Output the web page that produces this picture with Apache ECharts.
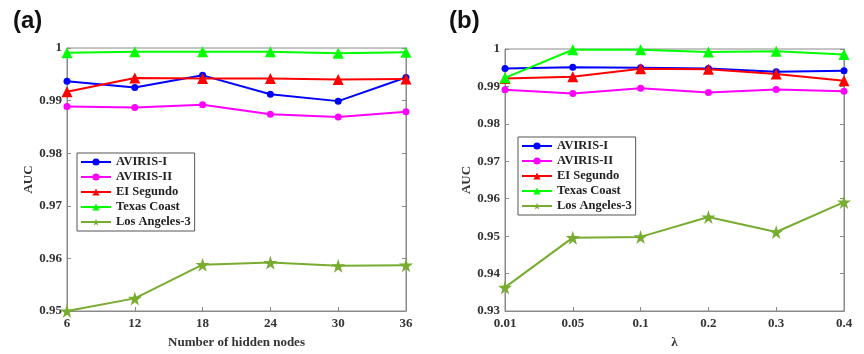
<!DOCTYPE html>
<html>
<head>
<meta charset="utf-8">
<script src="https://cdn.jsdelivr.net/npm/echarts@6/dist/echarts.min.js"></script>
<style>
  html, body { margin: 0; padding: 0; background: #fff; }
  #chart { width: 864px; height: 354px; }
</style>
</head>
<body>
<div id="chart"></div>
<script>
// panel (a): AUC vs number of hidden nodes
const nodesA = ['6', '12', '18', '24', '30', '36'];
const avirisIA = [0.9937, 0.9925, 0.9948, 0.9912, 0.9899, 0.9944];
const avirisIIA = [0.9889, 0.9887, 0.9892, 0.9874, 0.9869, 0.9879];
const segundoA = [0.9917, 0.9943, 0.9942, 0.9942, 0.9940, 0.9941];
const texasA = [0.9991, 0.9993, 0.9993, 0.9993, 0.9990, 0.9992];
const losAngelesA = [0.9500, 0.9524, 0.9588, 0.9592, 0.9586, 0.9587];

// panel (b): AUC vs lambda
const lambdaB = ['0.01', '0.05', '0.1', '0.2', '0.3', '0.4'];
const avirisIB = [0.9948, 0.9951, 0.9950, 0.9948, 0.9939, 0.9942];
const avirisIIB = [0.9891, 0.9881, 0.9895, 0.9884, 0.9892, 0.9887];
const segundoB = [0.9921, 0.9926, 0.9947, 0.9946, 0.9933, 0.9915];
const texasB = [0.9923, 0.9998, 0.9998, 0.9992, 0.9994, 0.9985];
const losAngelesB = [0.9363, 0.9496, 0.9498, 0.9551, 0.9511, 0.9591];

const names = ['AVIRIS-I', 'AVIRIS-II', 'EI Segundo', 'Texas Coast', 'Los Angeles-3'];

const SERIF = '"Liberation Serif", "Times New Roman", serif';
const AXIS_GREY = '#8a8a8a';

const STYLE = {
  'AVIRIS-I': { color: '#0000ff', symbol: 'circle', size: 7 },
  'AVIRIS-II': { color: '#ff00ff', symbol: 'circle', size: 7 },
  'EI Segundo': { color: '#ff0000', symbol: 'triangle', size: 11 },
  'Texas Coast': { color: '#00ff00', symbol: 'triangle', size: 11 },
  'Los Angeles-3': { color: '#77ac30', symbol: 'path://M50,0 L61,35 L98,35 L68,57 L79,91 L50,70 L21,91 L32,57 L2,35 L39,35 Z', size: 14 },
};

function makeSeries(name, data, idx) {
  const s = STYLE[name];
  return {
    name,
    type: 'line',
    xAxisIndex: idx,
    yAxisIndex: idx * 2,
    data,
    symbol: s.symbol,
    symbolSize: s.size,
    showAllSymbol: true,
    color: s.color,
    lineStyle: { width: 2, color: s.color },
    itemStyle: { color: s.color },
    animation: false,
    z: 3,
  };
}

function yAxes(gridIndex, min, name) {
  const fmt = v => String(+v.toFixed(2));
  return [
    {
      type: 'value', gridIndex, min, max: 1, interval: 0.01,
      name, nameLocation: 'middle', nameGap: 30,
      nameTextStyle: { fontFamily: SERIF, fontWeight: 'bold', fontSize: 13, color: '#333' },
      axisLine: { show: true, lineStyle: { color: AXIS_GREY } },
      axisTick: { show: true, inside: true, length: 4, lineStyle: { color: AXIS_GREY } },
      axisLabel: { formatter: fmt, fontFamily: SERIF, fontWeight: 'bold', fontSize: 13, color: '#333', margin: 5 },
      splitLine: { show: false },
    },
    {
      type: 'value', gridIndex, min, max: 1, interval: 0.01, position: 'right',
      axisLine: { show: true, lineStyle: { color: AXIS_GREY } },
      axisTick: { show: true, inside: true, length: 4, lineStyle: { color: AXIS_GREY } },
      axisLabel: { show: false },
      splitLine: { show: false },
    },
  ];
}

function xAxis(gridIndex, data, name) {
  return {
    type: 'category', gridIndex, data, boundaryGap: false,
    name, nameLocation: 'middle', nameGap: 25,
    nameTextStyle: { fontFamily: SERIF, fontWeight: 'bold', fontSize: 13, color: '#333' },
    axisLine: { show: true, lineStyle: { color: AXIS_GREY } },
    axisTick: { show: true, inside: true, length: 4, alignWithLabel: true, lineStyle: { color: AXIS_GREY } },
    axisLabel: { fontFamily: SERIF, fontWeight: 'bold', fontSize: 13, color: '#333', margin: 6 },
    splitLine: { show: false },
  };
}

function legend(left, top) {
  return {
    data: names,
    orient: 'vertical',
    left, top,
    itemWidth: 30, itemHeight: 9, itemGap: 1,
    padding: [2, 4, 2, 3],
    borderColor: '#555', borderWidth: 1,
    backgroundColor: '#fff',
    textStyle: { fontFamily: SERIF, fontWeight: 'bold', fontSize: 12.5, color: '#222', lineHeight: 14 },
    selectedMode: false,
  };
}

const chart = echarts.init(document.getElementById('chart'), null, { renderer: 'canvas' });

chart.setOption({
  backgroundColor: '#fff',
  animation: false,
  title: [
    { text: '(a)', left: 8, top: 4, textStyle: { fontFamily: 'Liberation Sans, Arial', fontWeight: 'bold', fontSize: 24, color: '#111' } },
    { text: '(b)', left: 444, top: 4, textStyle: { fontFamily: 'Liberation Sans, Arial', fontWeight: 'bold', fontSize: 24, color: '#111' } },
  ],
  grid: [
    { left: 67, right: 458, top: 48, bottom: 38, show: true, borderColor: AXIS_GREY, borderWidth: 1 },
    { left: 505, right: 20, top: 49, bottom: 38, show: true, borderColor: AXIS_GREY, borderWidth: 1 },
  ],
  xAxis: [
    xAxis(0, nodesA, 'Number of hidden nodes'),
    xAxis(1, lambdaB, 'λ'),
  ],
  yAxis: [
    ...yAxes(0, 0.95, 'AUC'),
    ...yAxes(1, 0.93, 'AUC'),
  ],
  legend: [legend(77, 153), legend(518, 137)],
  series: [
    makeSeries('AVIRIS-I', avirisIA, 0),
    makeSeries('AVIRIS-II', avirisIIA, 0),
    makeSeries('EI Segundo', segundoA, 0),
    makeSeries('Texas Coast', texasA, 0),
    makeSeries('Los Angeles-3', losAngelesA, 0),
    makeSeries('AVIRIS-I', avirisIB, 1),
    makeSeries('AVIRIS-II', avirisIIB, 1),
    makeSeries('EI Segundo', segundoB, 1),
    makeSeries('Texas Coast', texasB, 1),
    makeSeries('Los Angeles-3', losAngelesB, 1),
  ],
});
</script>
</body>
</html>
